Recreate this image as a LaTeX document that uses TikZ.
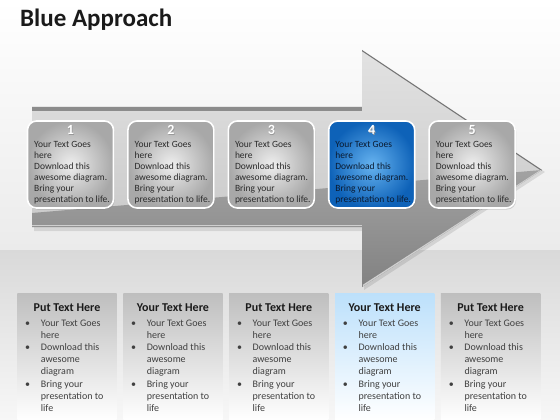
\documentclass[tikz,border=0pt]{standalone}
\usepackage{fontspec}
\setmainfont{Carlito}
\usetikzlibrary{shadows}
\definecolor{ttl}{HTML}{1A1A1A}
\definecolor{bgA}{HTML}{EBEBEB}
\definecolor{bgB}{HTML}{D9D9D9}
\definecolor{bgC}{HTML}{F7F7F7}
\definecolor{arrT}{HTML}{E2E2E2}
\definecolor{arrB}{HTML}{C2C2C2}
\definecolor{drkT}{HTML}{A2A2A2}
\definecolor{drkB}{HTML}{7E7E7E}
\definecolor{edgeD}{HTML}{8C8C8C}
\definecolor{headE}{HTML}{737373}
\definecolor{hiL}{HTML}{CFCFCF}
\definecolor{gIn}{HTML}{EEEEEE}
\definecolor{gOut}{HTML}{A8A8A8}
\definecolor{bIn}{HTML}{66B3F0}
\definecolor{bOut}{HTML}{0E62B8}
\definecolor{btxtc}{HTML}{2B2B2B}
\definecolor{btxtb}{HTML}{0A1A30}
\definecolor{pTop}{HTML}{BEBEBE}
\definecolor{pTopB}{HTML}{BCE0FB}
\definecolor{ptxt}{HTML}{404040}
\definecolor{phead}{HTML}{1A1A1A}
\begin{document}
\begin{tikzpicture}[x=1pt,y=-1pt,
  gbox/.style={rectangle,rounded corners=9pt,minimum width=86pt,minimum height=87pt,
    draw=white,line width=1.6pt,inner color=gIn,outer color=gOut,
    drop shadow={opacity=0.3,shadow xshift=1pt,shadow yshift=-1.5pt}},
  bbox/.style={gbox,inner color=bIn,outer color=bOut},
  numshadow/.style={font=\fontsize{14}{14}\selectfont\bfseries,text=black!40,inner sep=0pt},
  num/.style={font=\fontsize{14}{14}\selectfont\bfseries,text=white,inner sep=0pt},
  btxt/.style={font=\fontsize{9.5}{11}\selectfont,text=btxtc,align=left,inner sep=0pt,anchor=north west},
  panel/.style={rectangle,minimum width=99.3pt,minimum height=127pt,inner sep=0pt,
    top color=pTop,bottom color=white},
  bpanel/.style={panel,top color=pTopB},
  phd/.style={font=\fontsize{12}{12}\selectfont\bfseries,text=phead,inner sep=0pt,anchor=base},
  ptx/.style={font=\fontsize{10}{12.2}\selectfont,text=ptxt,align=left,inner sep=0pt,anchor=north west}
]
\useasboundingbox (0,0) rectangle (560,420);
% background
\shade[top color=white,bottom color=bgA] (0,0) rectangle (560,250);
\shade[top color=bgB,bottom color=bgC] (0,250) rectangle (560,420);
% title
\node[font=\fontsize{25}{25}\selectfont\bfseries,text=ttl,anchor=base west,inner sep=0pt] (title) at (20,27) {Blue Approach};
% arrow shadow
\fill[black,opacity=0.10] (34,110) -- (364,110) -- (364,53) -- (545,172) -- (364,290) -- (364,231) -- (34,231) -- cycle;
% arrow body
\shade[top color=arrT,bottom color=arrB] (32,107) -- (362,107) -- (362,50) -- (542,170) -- (362,287) -- (362,227) -- (32,227) -- cycle;
\begin{scope}
  \clip (32,107) -- (362,107) -- (362,50) -- (542,170) -- (362,287) -- (362,227) -- (32,227) -- cycle;
  \shade[top color=drkT,bottom color=drkB] (32,213) -- (542,170) -- (542,300) -- (32,300) -- cycle;
  \fill[edgeD] (32,106) rectangle (362,111);
  \draw[line width=2pt,headE] (362,50) -- (542,170);
  \draw[line width=1.2pt,hiL] (32,225.6) -- (362,225.6);
  \draw[line width=1.4pt,hiL] (363,285.5) -- (541,170.5);
\end{scope}
% upper boxes
\foreach \i/\cx in {1/70.5,2/170.9,3/271.3,5/472.1}{
  \node[gbox] (b\i) at (\cx,164.5) {};
  \node[numshadow] (ns\i) at (\cx+0.7,130.7) {\i};
  \node[num] (n\i) at (\cx,130) {\i};
  \node[btxt] (t\i) at (\cx-36.5,140.8) {Your Text Goes\\here\\Download this\\awesome diagram.\\Bring your\\presentation to life.};
}
\node[bbox] (b4) at (371.7,164.5) {};
\node[numshadow] (ns4) at (372.4,130.7) {4};
\node[num] (n4) at (371.7,130) {4};
\node[btxt,text=btxtb] (t4) at (335.2,140.8) {Your Text Goes\\here\\Download this\\awesome diagram.\\Bring your\\presentation to life.};
% lower panels
\foreach \i/\cx/\st/\hd in {1/67/panel/Put Text Here,2/172.9/panel/Your Text Here,3/278.8/panel/Put Text Here,4/384.7/bpanel/Your Text Here,5/490.6/panel/Put Text Here}{
  \node[\st] (p\i) at (\cx,356.5) {};
  \node[phd] (h\i) at (\cx,311.5) {\hd};
  \node[ptx] (l\i) at (\cx-42,319.5) {\makebox[15.7pt][l]{\textbullet}Your Text Goes\\\hspace*{15.7pt}here\\\makebox[15.7pt][l]{\textbullet}Download this\\\hspace*{15.7pt}awesome\\\hspace*{15.7pt}diagram\\\makebox[15.7pt][l]{\textbullet}Bring your\\\hspace*{15.7pt}presentation to\\\hspace*{15.7pt}life};
}
\end{tikzpicture}
\end{document}
